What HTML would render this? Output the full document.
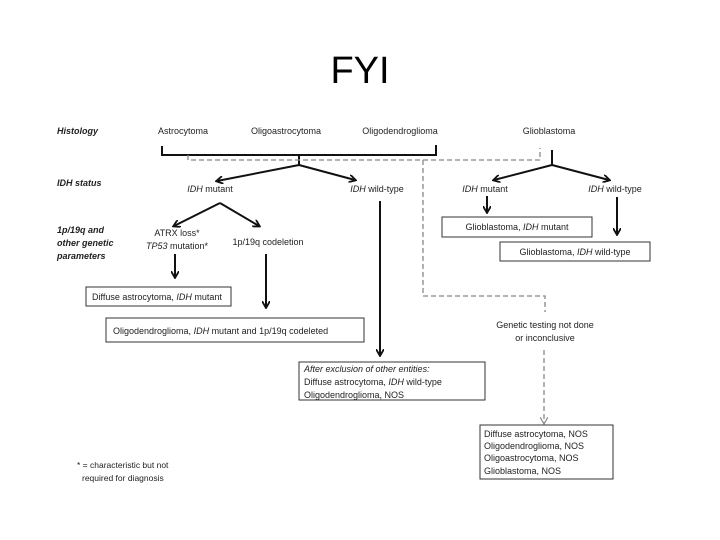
<!DOCTYPE html>
<html><head><meta charset="utf-8"><style>
html,body{margin:0;padding:0;background:#fff;}
svg{display:block;}
text{font-family:"Liberation Sans",sans-serif;fill:#222;font-size:9px;}
.b{font-weight:bold;font-style:italic;}
.i{font-style:italic;}
</style></head><body>
<svg width="720" height="540" viewBox="0 0 720 540" xmlns="http://www.w3.org/2000/svg">
<defs>
<marker id="a" markerWidth="8" markerHeight="8" refX="6" refY="4" orient="auto" markerUnits="userSpaceOnUse"><path d="M0,0 L7,4 L0,8" fill="none" stroke="#111" stroke-width="1.8"/></marker>
<marker id="g" markerWidth="8" markerHeight="8" refX="6" refY="4" orient="auto" markerUnits="userSpaceOnUse"><path d="M0,0 L7,4 L0,8" fill="none" stroke="#888" stroke-width="1.2"/></marker>
</defs>
<text x="360" y="83" text-anchor="middle" style="font-size:38px;fill:#000">FYI</text>

<text class="b" x="57" y="134">Histology</text>
<text class="b" x="57" y="186">IDH status</text>
<text class="b" x="57" y="233">1p/19q and</text>
<text class="b" x="57" y="246">other genetic</text>
<text class="b" x="57" y="259">parameters</text>

<text x="183" y="134" text-anchor="middle">Astrocytoma</text>
<text x="286" y="134" text-anchor="middle">Oligoastrocytoma</text>
<text x="400" y="134" text-anchor="middle">Oligodendroglioma</text>
<text x="549" y="134" text-anchor="middle">Glioblastoma</text>

<g stroke="#111" stroke-width="2" fill="none">
<path d="M162,146 V155 H436 V145"/>
<path d="M299,155 V165"/>
<path d="M299,165 L217,181" marker-end="url(#a)"/>
<path d="M299,165 L355,180" marker-end="url(#a)"/>
<path d="M552,150 V165"/>
<path d="M552,165 L494,180" marker-end="url(#a)"/>
<path d="M552,165 L609,180" marker-end="url(#a)"/>
<path d="M220,203 L174,226" marker-end="url(#a)"/>
<path d="M220,203 L259,226" marker-end="url(#a)"/>
<path d="M175,254 V277" marker-end="url(#a)"/>
<path d="M266,254 V307" marker-end="url(#a)"/>
<path d="M380,201 V355" marker-end="url(#a)"/>
<path d="M487,196 V212" marker-end="url(#a)"/>
<path d="M617,197 V234" marker-end="url(#a)"/>
</g>
<g stroke="#888" stroke-width="1.3" fill="none" stroke-dasharray="5,3">
<path d="M188,155 V160 H540 V148"/>
<path d="M423,160 V296 H545 V312"/>
<path d="M544,350 V423" marker-end="url(#g)"/>
</g>

<text x="210" y="192" text-anchor="middle"><tspan class="i">IDH</tspan> mutant</text>
<text x="377" y="192" text-anchor="middle"><tspan class="i">IDH</tspan> wild-type</text>
<text x="485" y="192" text-anchor="middle"><tspan class="i">IDH</tspan> mutant</text>
<text x="615" y="192" text-anchor="middle"><tspan class="i">IDH</tspan> wild-type</text>
<text x="177" y="236" text-anchor="middle">ATRX loss*</text>
<text x="177" y="249" text-anchor="middle"><tspan class="i">TP53</tspan> mutation*</text>
<text x="268" y="245" text-anchor="middle">1p/19q codeletion</text>
<text x="545" y="328" text-anchor="middle">Genetic testing not done</text>
<text x="545" y="341" text-anchor="middle">or inconclusive</text>

<g stroke="#333" stroke-width="1" fill="#fff">
<rect x="86" y="287" width="145" height="19"/>
<rect x="106" y="318" width="258" height="24"/>
<rect x="299" y="362" width="186" height="38"/>
<rect x="442" y="217" width="150" height="20"/>
<rect x="500" y="242" width="150" height="19"/>
<rect x="480" y="425" width="133" height="54"/>
</g>
<text x="92" y="300">Diffuse astrocytoma, <tspan class="i">IDH</tspan> mutant</text>
<text x="113" y="334">Oligodendroglioma, <tspan class="i">IDH</tspan> mutant and 1p/19q codeleted</text>
<text class="i" x="304" y="372">After exclusion of other entities:</text>
<text x="304" y="385">Diffuse astrocytoma, <tspan class="i">IDH</tspan> wild-type</text>
<text x="304" y="398">Oligodendroglioma, NOS</text>
<text x="517" y="230" text-anchor="middle">Glioblastoma, <tspan class="i">IDH</tspan> mutant</text>
<text x="575" y="255" text-anchor="middle">Glioblastoma, <tspan class="i">IDH</tspan> wild-type</text>
<text x="484" y="437">Diffuse astrocytoma, NOS</text>
<text x="484" y="449">Oligodendroglioma, NOS</text>
<text x="484" y="461">Oligoastrocytoma, NOS</text>
<text x="484" y="474">Glioblastoma, NOS</text>
<text x="77" y="468" style="font-size:8.5px">* = characteristic but not</text>
<text x="82" y="481" style="font-size:8.5px">required for diagnosis</text>
</svg>
</body></html>
